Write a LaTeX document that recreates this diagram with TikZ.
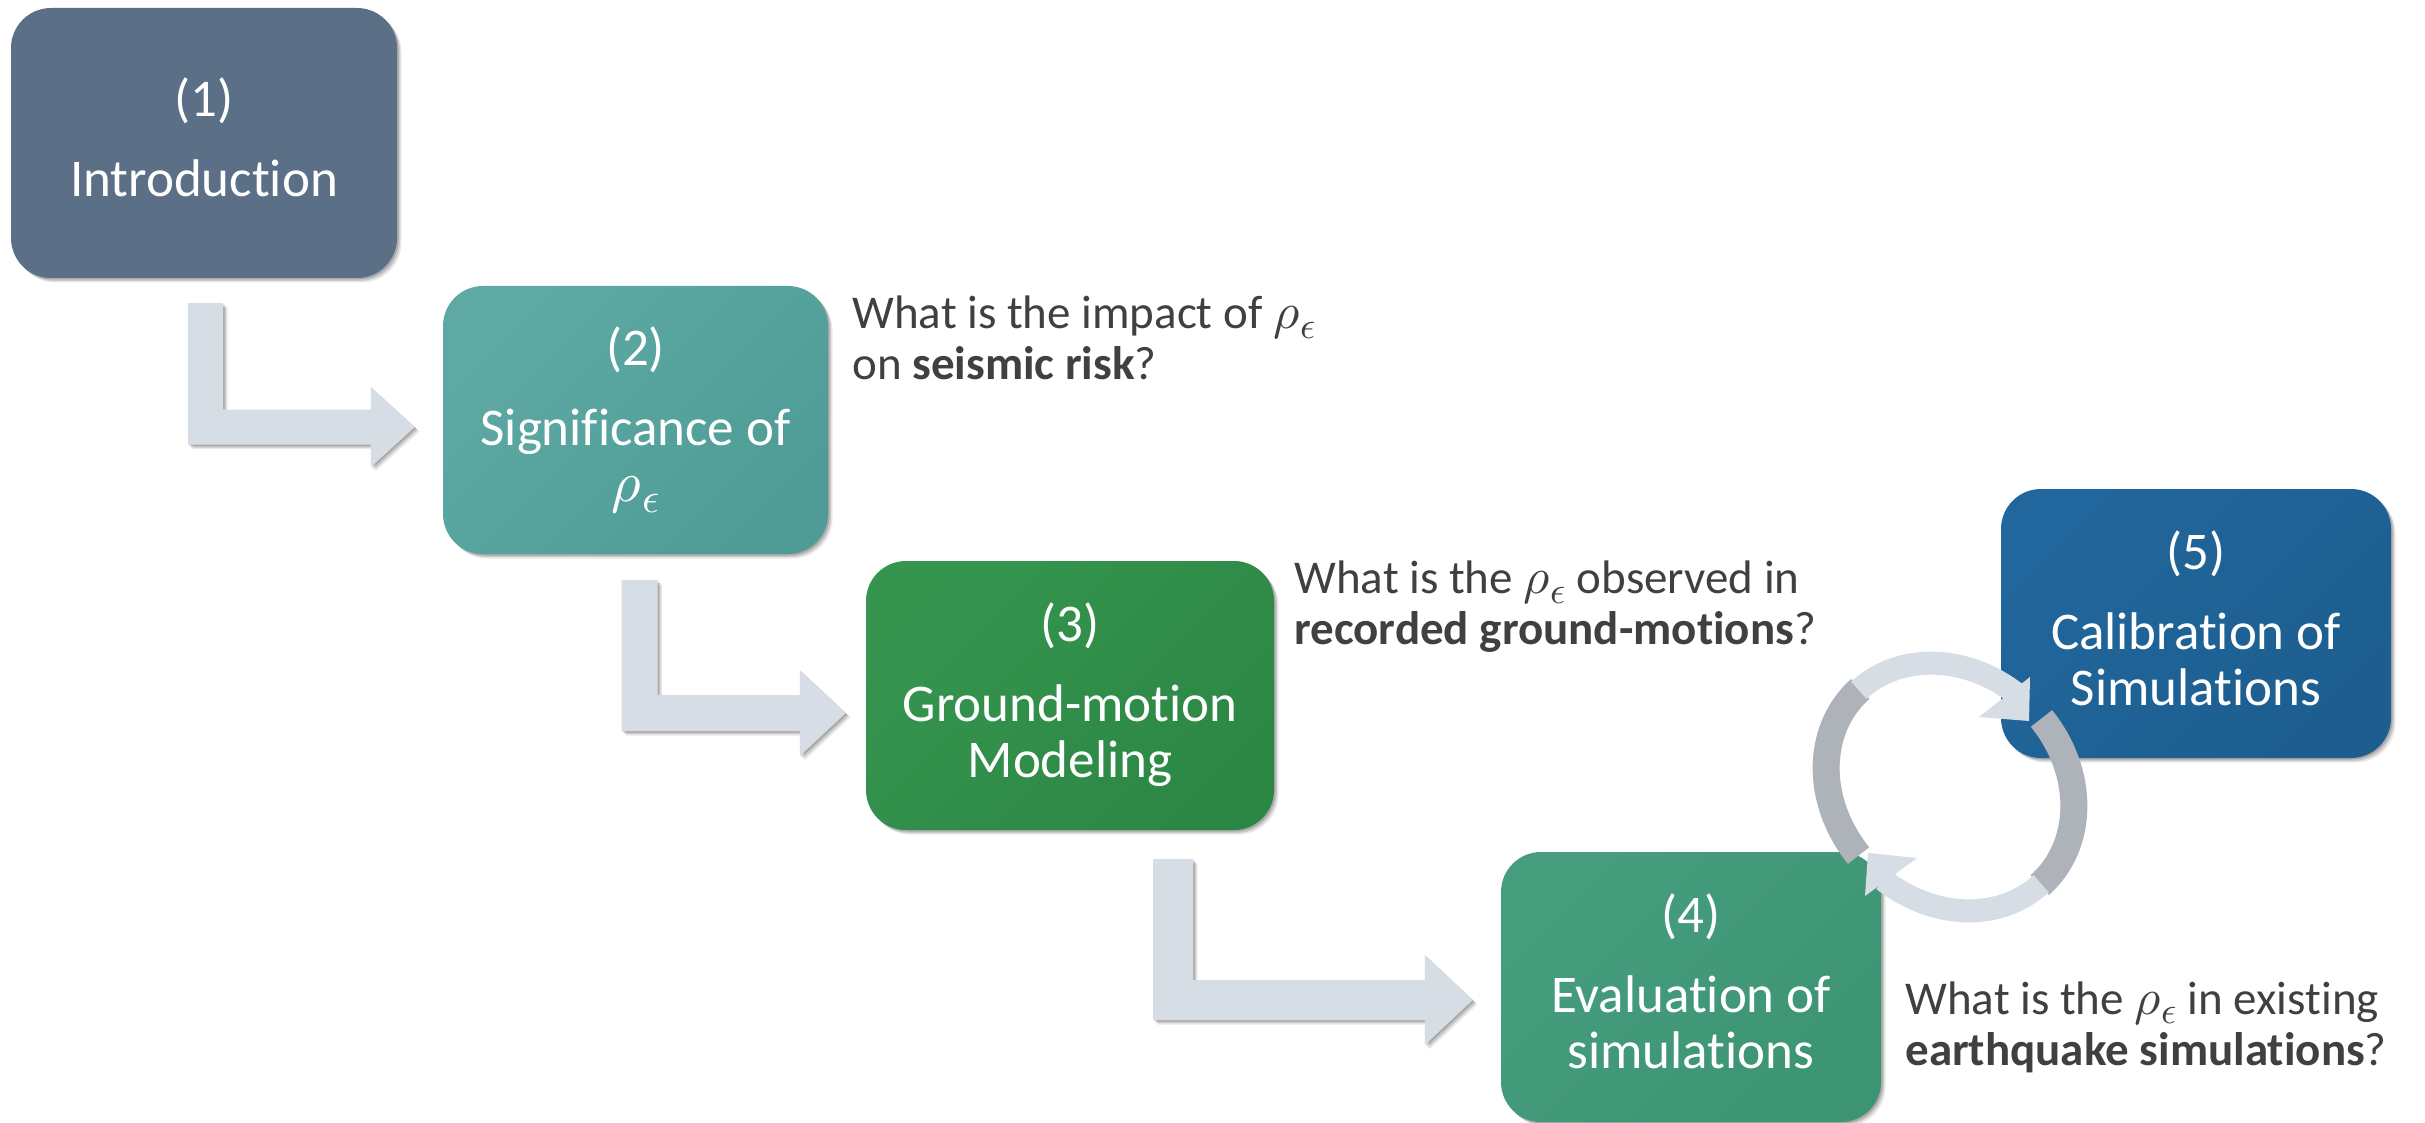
\documentclass[tikz,border=0pt]{standalone}
\usepackage{fontspec}
\usepackage{unicode-math}
\setmainfont{Carlito}[Ligatures={NoCommon}]
\usetikzlibrary{shadows,calc}
\definecolor{introcol}{HTML}{5B7086}
\definecolor{sigA}{HTML}{5EA9A4}
\definecolor{sigB}{HTML}{4F9C97}
\definecolor{gmA}{HTML}{35954F}
\definecolor{gmB}{HTML}{2C8744}
\definecolor{evA}{HTML}{479E7F}
\definecolor{evB}{HTML}{3D9473}
\definecolor{calA}{HTML}{21669C}
\definecolor{calB}{HTML}{1D5E8F}
\definecolor{arrowgray}{HTML}{D7DDE4}
\definecolor{ringdark}{HTML}{ADB3B9}
\definecolor{ringlight}{HTML}{D7DDE4}
\definecolor{qtext}{HTML}{404040}
\newcommand\boxlines[1]{\raisebox{-2.5pt}[\height][\depth]{\begin{tabular}{@{}c@{}}#1\end{tabular}}}
\newcommand\qlines[1]{\begin{tabular}[t]{@{}l@{}}#1\end{tabular}}
\newcommand\rhoeps{\scalebox{1.08}{$\rho$}\kern0.01em\raisebox{-0.2em}{\scalebox{0.8}{$\epsilon$}}}
\newcommand\larrowdraw[5]{%
  \fill[arrowgray, softshadow] let \p1=(#1), \p2=(#2) in
    (\x1-#3pt,\y1) -- (\x1+#3pt,\y1) -- (\x1+#3pt,\y2+#3pt) -- (\x2-#5pt,\y2+#3pt)
    -- (\x2-#5pt,\y2+#4pt) -- (\x2,\y2) -- (\x2-#5pt,\y2-#4pt) -- (\x2-#5pt,\y2-#3pt)
    -- (\x1-#3pt,\y2-#3pt) -- cycle;}
\tikzset{
  softshadow/.style={
    drop shadow={shadow xshift=1.5pt,shadow yshift=-1.5pt,opacity=.16,fill=black},
    drop shadow={shadow xshift=3pt,shadow yshift=-3pt,opacity=.13,fill=black},
    drop shadow={shadow xshift=4.5pt,shadow yshift=-4.5pt,opacity=.09,fill=black}},
  stagebox/.style={rounded corners=40pt, inner sep=0pt, text=white,
    font=\fontsize{53}{56}\selectfont, softshadow},
  shadedbox/.style 2 args={top color=#1, bottom color=#2, shading angle=45},
  qstyle/.style={inner sep=0pt, anchor=base west, text=qtext,
    font=\fontsize{47}{51}\selectfont},
}
\begin{document}
\begin{tikzpicture}[x=1pt,y=-1pt]
\fill[white] (0,0) rectangle (2425,1123);
\useasboundingbox (0,0) rectangle (2425,1123);

% stage boxes
\node[stagebox, fill=introcol, minimum width=386pt, minimum height=270pt] (b1) at (204,143)
  {\boxlines{(1)\\[24pt] Introduction}};
\node[stagebox, shadedbox={sigA}{sigB}, minimum width=385pt, minimum height=268pt] (b2) at (635.5,420)
  {\boxlines{(2)\\[24pt] Significance of\\ \rhoeps}};
\node[stagebox, shadedbox={gmA}{gmB}, minimum width=408pt, minimum height=269pt] (b3) at (1070,695.5)
  {\boxlines{(3)\\[24pt] Ground-motion\\ Modeling}};
\node[stagebox, shadedbox={evA}{evB}, minimum width=380pt, minimum height=270pt] (b4) at (1691,987)
  {\boxlines{(4)\\[24pt] Evaluation of\\ simulations}};
\node[stagebox, shadedbox={calA}{calB}, minimum width=390pt, minimum height=269pt] (b5) at (2196,623.5)
  {\boxlines{(5)\\[24pt] Calibration of\\ Simulations}};

% questions
\node[qstyle] (q2) at ($(b2.north east)+(24,43)$)
  {\qlines{What is the impact of \rhoeps\\ on \textbf{seismic risk}?}};
\node[qstyle] (q3) at ($(b3.north east)+(20,33)$)
  {\qlines{What is the \rhoeps{} observed in\\ \textbf{recorded ground-motions}?}};
\node[qstyle] (q4) at ($(b4.east)+(24,27)$)
  {\qlines{What is the \rhoeps{} in existing\\ \textbf{earthquake simulations}?}};

% L-shaped block arrows
\coordinate (a1s) at ($(b1.south)+(1.5,25)$);
\coordinate (a1t) at ($(b2.west)+(-28,7)$);
\coordinate (a2s) at ($(b2.south)+(4,26)$);
\coordinate (a2t) at ($(b3.west)+(-20,17.5)$);
\coordinate (a3s) at ($(b3.south)+(103,29)$);
\coordinate (a3t) at ($(b4.west)+(-28,13)$);
\larrowdraw{a1s}{a1t}{17.5}{40}{44}
\larrowdraw{a2s}{a2t}{18}{43}{46}
\larrowdraw{a3s}{a3t}{20}{45}{48}

% circular arrows between (4) and (5)
\coordinate (ring) at (1950,787);
\begin{scope}[shift={(ring)}]
  \draw[ringdark, line width=27pt] plot[domain=97:183, samples=40]
    ({0.7071*(133*cos(\x)-114*sin(\x))},{0.7071*(133*cos(\x)+114*sin(\x))});
  \draw[ringlight, line width=23pt] plot[domain=182:262, samples=40]
    ({0.7071*(133*cos(\x)-114*sin(\x))},{0.7071*(133*cos(\x)+114*sin(\x))});
  \fill[ringlight] (29,-70) -- (80,-110) -- (79,-66) -- cycle;
  \draw[ringdark, line width=27pt] plot[domain=277:363, samples=40]
    ({0.7071*(133*cos(\x)-114*sin(\x))},{0.7071*(133*cos(\x)+114*sin(\x))});
  \draw[ringlight, line width=23pt] plot[domain=362:442, samples=40]
    ({0.7071*(133*cos(\x)-114*sin(\x))},{0.7071*(133*cos(\x)+114*sin(\x))});
  \fill[ringlight] (-33,71) -- (-85,109) -- (-82,66) -- cycle;
\end{scope}
\end{tikzpicture}
\end{document}
